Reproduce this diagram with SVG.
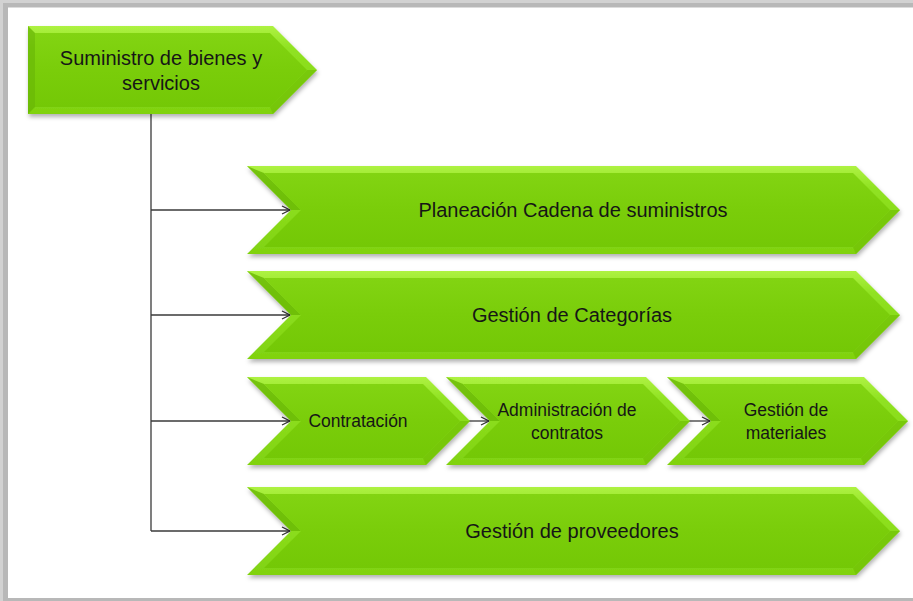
<svg xmlns="http://www.w3.org/2000/svg" width="913" height="601" viewBox="0 0 913 601">
<defs>
<linearGradient id="face" x1="0" y1="0" x2="0" y2="1">
<stop offset="0" stop-color="#82d412"/>
<stop offset="0.5" stop-color="#7acd0a"/>
<stop offset="1" stop-color="#74c806"/>
</linearGradient>
<linearGradient id="edge" x1="0" y1="0" x2="0" y2="1">
<stop offset="0" stop-color="#aef242"/>
<stop offset="0.25" stop-color="#90e222"/>
<stop offset="1" stop-color="#80d210"/>
</linearGradient>
<filter id="sh" x="-5%" y="-10%" width="110%" height="130%">
<feDropShadow dx="1" dy="3" stdDeviation="2" flood-color="#000" flood-opacity="0.3"/>
</filter>
<marker id="ah" markerWidth="12" markerHeight="12" refX="9" refY="5" orient="auto" markerUnits="userSpaceOnUse">
<path d="M1,1 L9,5 L1,9" fill="none" stroke="#333" stroke-width="1.3"/>
</marker>
<style>
.out{fill:url(#edge);filter:url(#sh)}
.in{fill:url(#face)}
.dk{fill:#66b402;opacity:0.75}
.dk2{fill:#70c004;opacity:0.7}
.t{font-family:"Liberation Sans",Arial,sans-serif;font-size:20px;fill:#161616;text-anchor:middle}
.s{font-size:17.5px}
.c{stroke:#3a3a3a;stroke-width:1.3;fill:none}
</style>
</defs>
<rect x="0" y="0" width="913" height="601" fill="#b8b8b8"/>
<rect x="0" y="0" width="913" height="3" fill="#d2d2d2"/>
<rect x="0" y="0" width="3" height="601" fill="#d2d2d2"/>
<rect x="8" y="7.5" width="905" height="590.5" fill="#fff"/>

<g id="connectors">
<path class="c" d="M151,114 V531"/>
<path class="c" d="M151,210 H290" marker-end="url(#ah)"/>
<path class="c" d="M151,315 H290" marker-end="url(#ah)"/>
<path class="c" d="M151,421 H290" marker-end="url(#ah)"/>
<path class="c" d="M151,531 H290" marker-end="url(#ah)"/>
<path class="c" d="M468,421 H489" marker-end="url(#ah)"/>
<path class="c" d="M688,421 H710" marker-end="url(#ah)"/>
</g>

<g id="n-suministro">
<path class="out" d="M28,26 H273 L317,70 L273,114 H28 Z"/>
<polygon class="dk" points="28,26 35,33 35,107 28,114"/>
<polygon class="dk2" points="317,70 307,70 270,107 273,114"/>
<path class="in" d="M35,33 H270 L307,70 L270,107 H35 Z"/>
<text class="t" x="161" y="65">Suministro de bienes y</text>
<text class="t" x="161" y="90">servicios</text>
</g>

<g id="n-planeacion">
<path class="out" d="M247,166 H856 L900,210 L856,254 H247 L291,210 Z"/>
<polygon class="dk" points="247,166 264,173 301,210 291,210"/>
<polygon class="dk2" points="900,210 890,210 853,247 856,254"/>
<path class="in" d="M264,173 H853 L890,210 L853,247 H264 L301,210 Z"/>
<text class="t" x="573" y="217">Planeación Cadena de suministros</text>
</g>

<g id="n-categorias">
<path class="out" d="M247,271 H856 L900,315 L856,359 H247 L291,315 Z"/>
<polygon class="dk" points="247,271 264,278 301,315 291,315"/>
<polygon class="dk2" points="900,315 890,315 853,352 856,359"/>
<path class="in" d="M264,278 H853 L890,315 L853,352 H264 L301,315 Z"/>
<text class="t" x="572" y="322">Gestión de Categorías</text>
</g>

<g id="n-contratacion">
<path class="out" d="M247,377 H426 L470,421 L426,465 H247 L291,421 Z"/>
<polygon class="dk" points="247,377 264,384 301,421 291,421"/>
<polygon class="dk2" points="470,421 460,421 423,458 426,465"/>
<path class="in" d="M264,384 H423 L460,421 L423,458 H264 L301,421 Z"/>
<text class="t s" x="358" y="427">Contratación</text>
</g>

<g id="n-administracion">
<path class="out" d="M446,377 H646 L690,421 L646,465 H446 L490,421 Z"/>
<polygon class="dk" points="446,377 463,384 500,421 490,421"/>
<polygon class="dk2" points="690,421 680,421 643,458 646,465"/>
<path class="in" d="M463,384 H643 L680,421 L643,458 H463 L500,421 Z"/>
<text class="t s" x="567" y="416">Administración de</text>
<text class="t s" x="567" y="439">contratos</text>
</g>

<g id="n-materiales">
<path class="out" d="M667,377 H864 L908,421 L864,465 H667 L711,421 Z"/>
<polygon class="dk" points="667,377 684,384 721,421 711,421"/>
<polygon class="dk2" points="908,421 898,421 861,458 864,465"/>
<path class="in" d="M684,384 H861 L898,421 L861,458 H684 L721,421 Z"/>
<text class="t s" x="786" y="416">Gestión de</text>
<text class="t s" x="786" y="439">materiales</text>
</g>

<g id="n-proveedores">
<path class="out" d="M247,487 H856 L900,531 L856,575 H247 L291,531 Z"/>
<polygon class="dk" points="247,487 264,494 301,531 291,531"/>
<polygon class="dk2" points="900,531 890,531 853,568 856,575"/>
<path class="in" d="M264,494 H853 L890,531 L853,568 H264 L301,531 Z"/>
<text class="t" x="572" y="538">Gestión de proveedores</text>
</g>
</svg>
